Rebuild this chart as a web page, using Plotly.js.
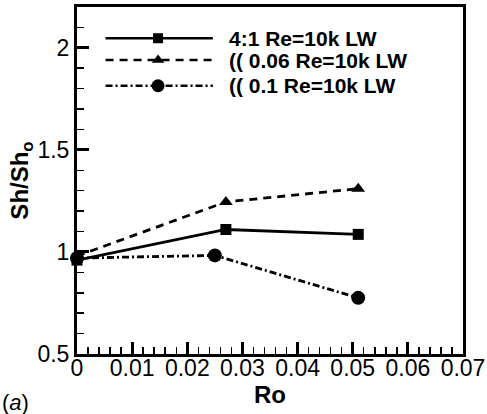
<!DOCTYPE html>
<html>
<head>
<meta charset="utf-8">
<script src="https://cdn.plot.ly/plotly-3.0.1.min.js"></script>
<style>html,body{margin:0;padding:0;background:#fff;}#chart{width:487px;height:414px;}</style>
</head>
<body>
<div id="chart"></div>
<script>
// Data
const seriesNames = ["4:1 Re=10k LW", "(( 0.06 Re=10k LW", "(( 0.1 Re=10k LW"];
const roSquare = [0, 0.027, 0.051];
const shSquare = [0.96, 1.11, 1.086];
const roTriangle = [0, 0.027, 0.051];
const shTriangle = [0.98, 1.245, 1.31];
const roCircle = [0, 0.025, 0.051];
const shCircle = [0.97, 0.983, 0.775];
const xTickVals = [0, 0.01, 0.02, 0.03, 0.04, 0.05, 0.06, 0.07];
const xTickText = ["0", "0.01", "0.02", "0.03", "0.04", "0.05", "0.06", "0.07"];
const yTickVals = [0.5, 1, 1.5, 2];
const yTickText = ["0.5", "1", "1.5", "2"];

const FONT = "Liberation Sans, Arial, Helvetica, sans-serif";
const styles = [
  {dash: "solid", symbol: "square", size: 11},
  {dash: "8px,6px", symbol: "triangle-up", size: 12},
  {dash: "7px,3px,2px,3px", symbol: "circle", size: 14}
];
const xs = [roSquare, roTriangle, roCircle];
const ys = [shSquare, shTriangle, shCircle];

const traces = [];
for (let i = 0; i < 3; i++) {
  traces.push({
    x: xs[i], y: ys[i], type: "scatter", mode: "lines+markers",
    name: seriesNames[i], showlegend: false, cliponaxis: false,
    line: {color: "#000", width: 2.8, dash: styles[i].dash},
    marker: {color: "#000", symbol: styles[i].symbol, size: styles[i].size}
  });
}

// Custom legend keys (long sample lines with marker in the middle)
const legY = [0.91, 0.847, 0.773];
const legX0 = 0.074, legX1 = 0.352, legXm = 0.21, legText = 0.389;
const annotations = [];
for (let i = 0; i < 3; i++) {
  traces.push({
    x: [legX0, legX1], y: [legY[i], legY[i]], xaxis: "x2", yaxis: "y2",
    type: "scatter", mode: "lines", showlegend: false, hoverinfo: "skip",
    line: {color: "#000", width: 2.5, dash: styles[i].dash}
  });
  traces.push({
    x: [legXm], y: [legY[i]], xaxis: "x2", yaxis: "y2",
    type: "scatter", mode: "markers", showlegend: false, hoverinfo: "skip",
    marker: {color: "#000", symbol: styles[i].symbol, size: styles[i].size - 1}
  });
  annotations.push({
    xref: "paper", yref: "paper", x: legText, y: legY[i], xanchor: "left", yanchor: "middle",
    text: "<b>" + seriesNames[i] + "</b>", showarrow: false,
    font: {family: FONT, size: 21, color: "#000"}
  });
}
annotations.push({
  xref: "paper", yref: "paper", x: -0.2, y: -0.139, xanchor: "left", yanchor: "middle",
  text: "(<i>a</i>)", showarrow: false, font: {family: FONT, size: 22, color: "#000"}
});

const axisCommon = {
  showgrid: false, zeroline: false, showline: true, linecolor: "#000", linewidth: 3,
  mirror: true, ticks: "inside", ticklen: 12, tickwidth: 3, tickcolor: "#000",
  tickfont: {family: FONT, size: 23, color: "#000"}
};

const layout = {
  width: 487, height: 414,
  margin: {l: 77, r: 24, t: 7, b: 60},
  paper_bgcolor: "#fff", plot_bgcolor: "#fff",
  showlegend: false,
  xaxis: Object.assign({}, axisCommon, {
    range: [0, 0.07], tickmode: "array", tickvals: xTickVals, ticktext: xTickText, tickangle: 0,
    ticklabelstandoff: -9,
    minor: {dtick: 0.002, tick0: 0, ticks: "inside", ticklen: 7, tickwidth: 1.5, tickcolor: "#000"},
    title: {text: "<b>Ro</b>", font: {family: FONT, size: 24, color: "#000"}, standoff: 4}
  }),
  yaxis: Object.assign({}, axisCommon, {
    range: [0.5, 2.2], tickmode: "array", tickvals: yTickVals, ticktext: yTickText,
    minor: {dtick: 0.1, tick0: 0.5, ticks: "inside", ticklen: 7, tickwidth: 1.5, tickcolor: "#000"},
    title: {text: "<b>Sh/Sh<sub>o</sub></b>", font: {family: FONT, size: 24, color: "#000"}, standoff: 2}
  }),
  xaxis2: {overlaying: "x", range: [0, 1], visible: false, fixedrange: true},
  yaxis2: {overlaying: "y", range: [0, 1], visible: false, fixedrange: true},
  annotations: annotations
};

Plotly.newPlot("chart", traces, layout, {displayModeBar: false, staticPlot: true});
</script>
</body>
</html>
